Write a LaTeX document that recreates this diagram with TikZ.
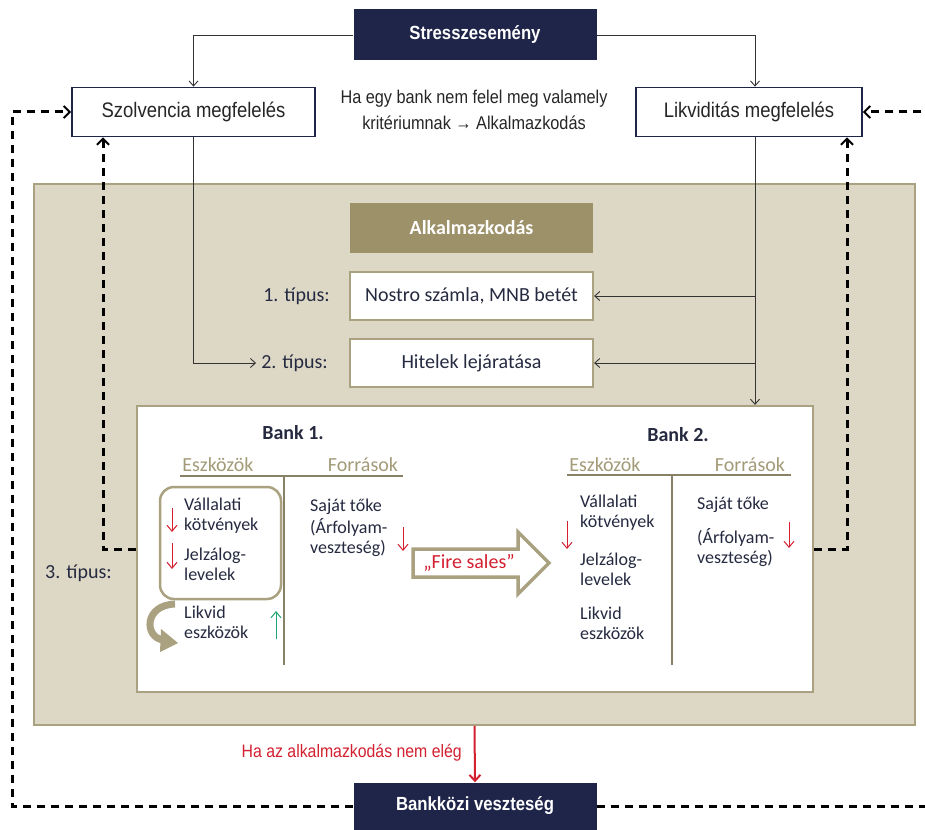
\documentclass[tikz,border=0pt]{standalone}
\usepackage{fontspec}
\setmainfont{Carlito}
\newfontfamily\arialfont{Liberation Sans}
\newfontfamily\narrowfont[FakeStretch=0.88]{Liberation Sans}
\usetikzlibrary{arrows.meta,calc}
\definecolor{navy}{HTML}{1E2549}
\definecolor{beige}{HTML}{DDD8C6}
\definecolor{khaki}{HTML}{9D9169}
\definecolor{khakiline}{HTML}{A9A17F}
\definecolor{khakitext}{HTML}{A39B78}
\definecolor{inktext}{HTML}{262A40}
\definecolor{lossred}{HTML}{D42030}
\definecolor{gainteal}{HTML}{22A575}
\def\bigtxt{\fontsize{20}{22}\selectfont}
\def\coltxt{\fontsize{18}{20}\selectfont}

\tikzset{
	navybox/.style={fill=navy, text=white, minimum width=243pt, minimum height=51pt, inner sep=0pt, font=\narrowfont\bfseries\fontsize{19}{21}\selectfont},
	checkbox/.style={draw=navy, line width=1.8pt, fill=white, minimum height=49pt, inner sep=0pt, text=black!85, font=\narrowfont\fontsize{21}{23}\selectfont},
	typebox/.style={draw=khakiline, line width=2.2pt, fill=white, minimum width=243pt, minimum height=48pt, inner sep=0pt, text=inktext, font=\bigtxt},
	coltext/.style={anchor=west, align=left, inner sep=0pt, text=inktext, font=\coltxt},
	arr/.style={line width=0.9pt, draw=black!80, -{Straight Barb[length=5pt,width=9pt]}},
	dasharr/.style={line width=3pt, dash pattern=on 8pt off 6pt, -{Straight Barb[length=6pt,width=12pt,line width=2pt]}},
	redarr/.style={line width=1pt, draw=lossred, -{Straight Barb[length=6pt,width=10pt]}},
}

\begin{document}
\begin{tikzpicture}[x=1pt, y=-1pt]
			%%%%% START %%%%%
			\fill[white] (0,0) rectangle (925,829);
			\useasboundingbox (0,0) rectangle (925,829);
			
			% adaptation area
			\node[draw=khakiline, line width=1.6pt, fill=beige, minimum width=881pt, minimum height=541pt, inner sep=0pt] (adapt) at (474.5,454.5) {};
			
			% top row
			\node[navybox] (stress) at (475,35) {Stresszesemény};
			\node[checkbox, minimum width=243pt] (solv) at (193.5,112) {Szolvencia megfelelés};
			\node[checkbox, minimum width=226pt] (liq) at (749,112) {Likviditás megfelelés};
			\node[align=center, inner sep=0pt, text=black!85, font=\narrowfont\fontsize{18.5}{26}\selectfont] (note) at (474,110) {Ha egy bank nem felel meg valamely\\kritériumnak → Alkalmazkodás};
			
			% adaptation types
			\node[fill=khaki, text=white, minimum width=243pt, minimum height=50pt, inner sep=0pt, font=\bigtxt\bfseries] (alk) at (471.5,228) {Alkalmazkodás};
			\node[typebox] (nostro) at (471.5,296) {Nostro számla, MNB betét};
			\node[typebox] (hitel) at (471.5,363) {Hitelek lejáratása};
			\node[anchor=east, inner sep=0pt, text=inktext, font=\bigtxt] (t1) at (330,296) {1. típus:};
			\node[anchor=east, inner sep=0pt, text=inktext, font=\bigtxt] (t2) at (328,363) {2. típus:};
			\node[anchor=west, inner sep=0pt, text=inktext, font=\bigtxt] (t3) at (45,573) {3. típus:};
			
			% banks
			\node[draw=khakiline, line width=2.2pt, fill=white, minimum width=676pt, minimum height=286pt, inner sep=0pt] (bank) at (475,549) {};
			
			\node[text=inktext, font=\bigtxt\bfseries] (bankA) at (293,433) {Bank 1.};
			\node[text=khakitext, font=\bigtxt] (assetA) at (218,465) {Eszközök};
			\node[text=khakitext, font=\bigtxt] (fundA) at (363,465) {Források};
			\draw[khakiline!80!black, line width=1.2pt] (180,476) -- (403,476);
			\draw[khakiline!80!black, line width=1.2pt] (284,476) -- (284,665);
			\draw[khakiline, line width=2.5pt, rounded corners=14pt] (160,487) rectangle (281,599);
			\node[coltext] (bondA) at (184,516) {Vállalati\\kötvények};
			\node[coltext] (mortA) at (184,564) {Jelzálog-\\levelek};
			\node[coltext] (liqA) at (184,622) {Likvid\\eszközök};
			\node[coltext] (eqA) at (310,507) {Saját tőke};
			\node[coltext] (fxA) at (310,538) {(Árfolyam-\\veszteség)};
			\draw[redarr] (172,508) -- (172,532);
			\draw[redarr] (172,543) -- (172,569);
			\draw[redarr] (403,527) -- (403,551);
			\draw[line width=1pt, draw=gainteal, -{Straight Barb[length=6pt,width=10pt]}] (276,639) -- (276,611);
			\draw[line width=7pt, draw=khakiline] (175,604) .. controls (144,605) and (144,637) .. (163,640);
			\fill[khakiline] (161,629) -- (178,643) -- (160,652) -- cycle;
			
			\node[text=inktext, font=\bigtxt\bfseries] (bankB) at (678,435) {Bank 2.};
			\node[text=khakitext, font=\bigtxt] (assetB) at (605,465) {Eszközök};
			\node[text=khakitext, font=\bigtxt] (fundB) at (750,465) {Források};
			\draw[khakiline!80!black, line width=1.2pt] (567,475) -- (791,475);
			\draw[khakiline!80!black, line width=1.2pt] (672,475) -- (672,665);
			\node[coltext] (bondB) at (580,513) {Vállalati\\kötvények};
			\node[coltext] (mortB) at (580,569) {Jelzálog-\\levelek};
			\node[coltext] (liqB) at (580,623) {Likvid\\eszközök};
			\node[coltext] (eqB) at (697,505) {Saját tőke};
			\node[coltext] (fxB) at (697,548) {(Árfolyam-\\veszteség)};
			\draw[redarr] (567,521) -- (567,549);
			\draw[redarr] (789,522) -- (789,548);
			
			% fire sales
			\draw[draw=khakiline, line width=3.5pt, fill=white, line join=miter] (413,549) -- (518,549) -- (518,532) -- (549,563) -- (518,594) -- (518,577) -- (413,577) -- cycle;
			\node[text=lossred, font=\fontsize{20}{22}\selectfont] (fire) at (469,563) {„Fire sales”};
			
			% loss
			\node[navybox, minimum height=47pt] (loss) at (475,806) {Bankközi veszteség};
			\node[anchor=east, inner sep=0pt, text=lossred, font=\narrowfont\fontsize{18}{20}\selectfont] (notenough) at (462,753) {Ha az alkalmazkodás nem elég};
			
			% connectors
			\coordinate (lq) at ([xshift=6pt]liq.south);
			\coordinate (dl) at (103,548);
			\coordinate (dr) at (847,548);
			\coordinate (ol) at (12,112);
			\coordinate (or) at (930,112);
			
			\draw[arr] (stress.west) -| (solv.north);
			\draw[arr] (stress.east) -| ([xshift=6pt]liq.north);
			\draw[arr] (solv.south) |- ([xshift=-5pt]t2.west);
			\draw[arr] (lq) -- (lq |- bank.north);
			\draw[arr] (lq |- nostro.east) -- (nostro.east);
			\draw[arr] (lq |- hitel.east) -- (hitel.east);
			\draw[line width=2pt, draw=lossred, -{Straight Barb[length=6pt,width=11pt]}] (adapt.south) -- (loss.north);
			
			\draw[dasharr] (bank.west) -| (solv.south -| dl);
			\draw[dasharr] (bank.east) -| (liq.south -| dr);
			\draw[dasharr] (loss.west) -| (ol) -- (solv.west);
			\draw[dasharr] (loss.east) -| (or) -- (liq.east);
			
			%%%%% END %%%%%
\end{tikzpicture}
\end{document}
